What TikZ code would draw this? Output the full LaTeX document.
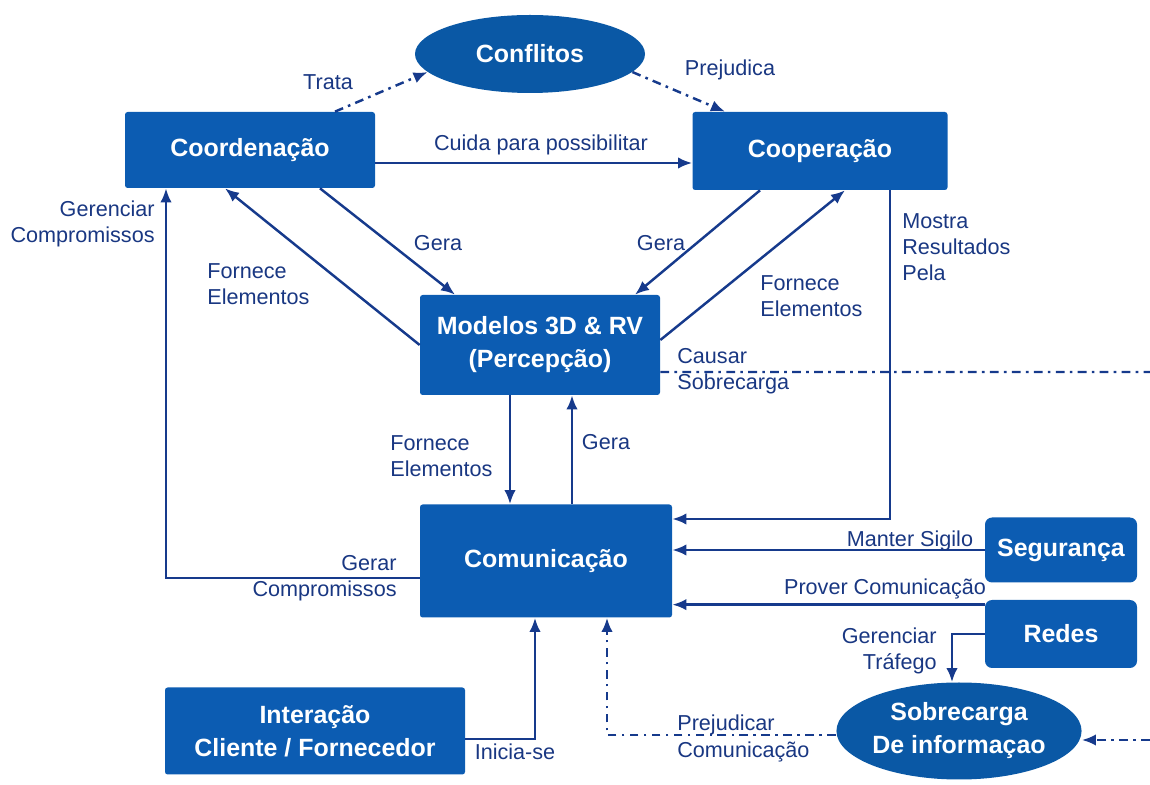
\documentclass[tikz,border=0pt]{standalone}
\usepackage{fontspec}
\setmainfont{Liberation Sans}
\usepackage{tikz}
\usetikzlibrary{arrows.meta,shapes,calc}
\tikzset{
  conn/.style={-{Latex[length=8pt,width=6.5pt]}, draw=linkblue, line width=1.4pt},
  dashconn/.style={conn, dash pattern=on 5pt off 3pt on 1.5pt off 3pt},
  lbl/.style={text=textblue, font=\fontsize{12.3}{14.8}\selectfont, inner sep=0pt},
}
\definecolor{boxblue}{RGB}{12,92,178}
\definecolor{ovalblue}{RGB}{10,88,165}
\definecolor{linkblue}{RGB}{22,58,140}
\definecolor{textblue}{RGB}{25,55,130}

\begin{document}
\begin{tikzpicture}[box/.style={fill=boxblue, text=white, font=\fontsize{14.2}{18.8}\selectfont\bfseries, align=center, rounded corners=1.5pt, inner sep=0pt}, oval/.style={ellipse, fill=ovalblue, text=white, font=\fontsize{14.2}{18.8}\selectfont\bfseries, align=center, inner sep=0pt}]
      \useasboundingbox (0,0) rectangle (23,15.7);

      \node at (10.6,14.62) [oval, minimum width=4.6cm, minimum height=1.56cm] (conf) {Conflitos};
      \node at (5,12.7) [box, minimum width=5cm, minimum height=1.52cm] (coord) {Coordenação};
      \node at (16.4,12.68) [box, minimum width=5.1cm, minimum height=1.56cm] (coop) {Cooperação};
      \node at (10.8,8.8) [box, minimum width=4.8cm, minimum height=2cm] (mod) {Modelos 3D \& RV\\(Percepção)};
      \node at (10.92,4.48) [box, minimum width=5.04cm, minimum height=2.26cm] (com) {Comunicação};
      \node at (21.22,4.7) [box, rounded corners=4pt, minimum width=3.04cm, minimum height=1.3cm] (seg) {Segurança};
      \node at (21.22,3.02) [box, rounded corners=4pt, minimum width=3.04cm, minimum height=1.36cm] (redes) {Redes};
      \node at (6.3,1.08) [box, minimum width=6cm, minimum height=1.74cm] (inter) {Interação\\Cliente / Fornecedor};
      \node at (19.18,1.08) [oval, minimum width=4.84cm, minimum height=1.94cm] (sob) {Sobrecarga\\De informaçao};

      \draw[dashconn] ($(coord.north)+(1.7,0)$) -- (conf.190);
      \draw[dashconn] (conf.-10) -- ($(coop.north)+(-1.9,0)$);
      \draw[conn] ($(coord.east)+(0,-0.26)$) coordinate (c1) -- (c1 -| coop.west);

      \draw[conn] ($(coord.south)+(1.4,0)$) -- ($(mod.north)+(-1.7,0)$);
      \draw[conn] (mod.west) -- ($(coord.south)+(-0.5,0)$);
      \draw[conn] ($(coop.south)+(-1.2,0)$) -- ($(mod.north)+(1.9,0)$);
      \draw[conn] ($(mod.east)+(0,0.1)$) -- ($(coop.south)+(0.5,0)$);
      \draw[conn] ($(coop.south)+(1.4,0)$) |- ($(com.east)+(0,0.84)$);

      \draw[conn] ($(mod.south)+(-0.6,0)$) coordinate (m1) -- (m1 |- com.north);
      \draw[conn] ($(com.north)+(0.52,0)$) coordinate (m2) -- (m2 |- mod.south);

      \coordinate (edge_top) at (23,8.26);
      \coordinate (edge_bottom) at (23,0.9);
      \draw[dashconn, -] ($(mod.east)+(0,-0.54)$) -- (edge_top);
      \draw[dashconn] (edge_bottom) -- (edge_bottom -| sob.east);

      \draw[conn] ($(com.west)+(0,-0.34)$) -| ($(coord.south)+(-1.68,0)$);
      \draw[conn] (seg.west) -- (seg.west -| com.east);
      \draw[conn] ($(redes.north west)+(0,-0.1)$) coordinate (r1) -- (r1 -| com.east);
      \draw[conn] (redes.west) -| ($(sob.north)+(-0.14,0)$);
      \draw[dashconn] ($(sob.west)+(0,-0.08)$) -| ($(com.south)+(1.22,0)$);
      \draw[conn] ($(inter.east)+(0,-0.16)$) -| ($(com.south)+(-0.22,0)$);

      \node[lbl] at (6.56,14.06) (trata) {Trata};
      \node[lbl] at (14.6,14.3) (prejudica) {Prejudica};
      \node[lbl] at (10.82,12.8) (cuida) {Cuida para possibilitar};
      \node[lbl] at (8.76,10.84) (gera_coord) {Gera};
      \node[lbl, anchor=west, align=left] at (4.14,10.02) (fornece_coord) {Fornece\\Elementos};
      \node[lbl] at (13.22,10.84) (gera_coop) {Gera};
      \node[lbl, anchor=west, align=left] at (15.2,9.78) (fornece_coop) {Fornece\\Elementos};
      \node[lbl, anchor=west, align=left] at (18.04,10.76) (mostra) {Mostra\\Resultados\\Pela};
      \node[lbl, anchor=west, align=left] at (7.8,6.58) (fornece_com) {Fornece\\Elementos};
      \node[lbl] at (12.12,6.86) (gera_com) {Gera};
      \node[lbl, anchor=west, align=left] at (13.54,8.27) (causar) {Causar\\Sobrecarga};
      \node[lbl, anchor=east, align=right] at (3.1,11.22) (gerenciar_comp) {Gerenciar\\Compromissos};
      \node[lbl, anchor=east, align=right] at (7.94,4.14) (gerar_comp) {Gerar\\Compromissos};
      \node[lbl] at (18.2,4.88) (sigilo) {Manter Sigilo};
      \node[lbl] at (17.7,3.92) (prover) {Prover Comunicação};
      \node[lbl, anchor=east, align=right] at (18.74,2.68) (trafego) {Gerenciar\\Tráfego};
      \node[lbl, anchor=west, align=left] at (13.54,0.93) (prejudicar) {Prejudicar\\[1pt]Comunicação};
      \node[lbl] at (10.3,0.66) (inicia) {Inicia-se};
    \end{tikzpicture}
\end{document}
